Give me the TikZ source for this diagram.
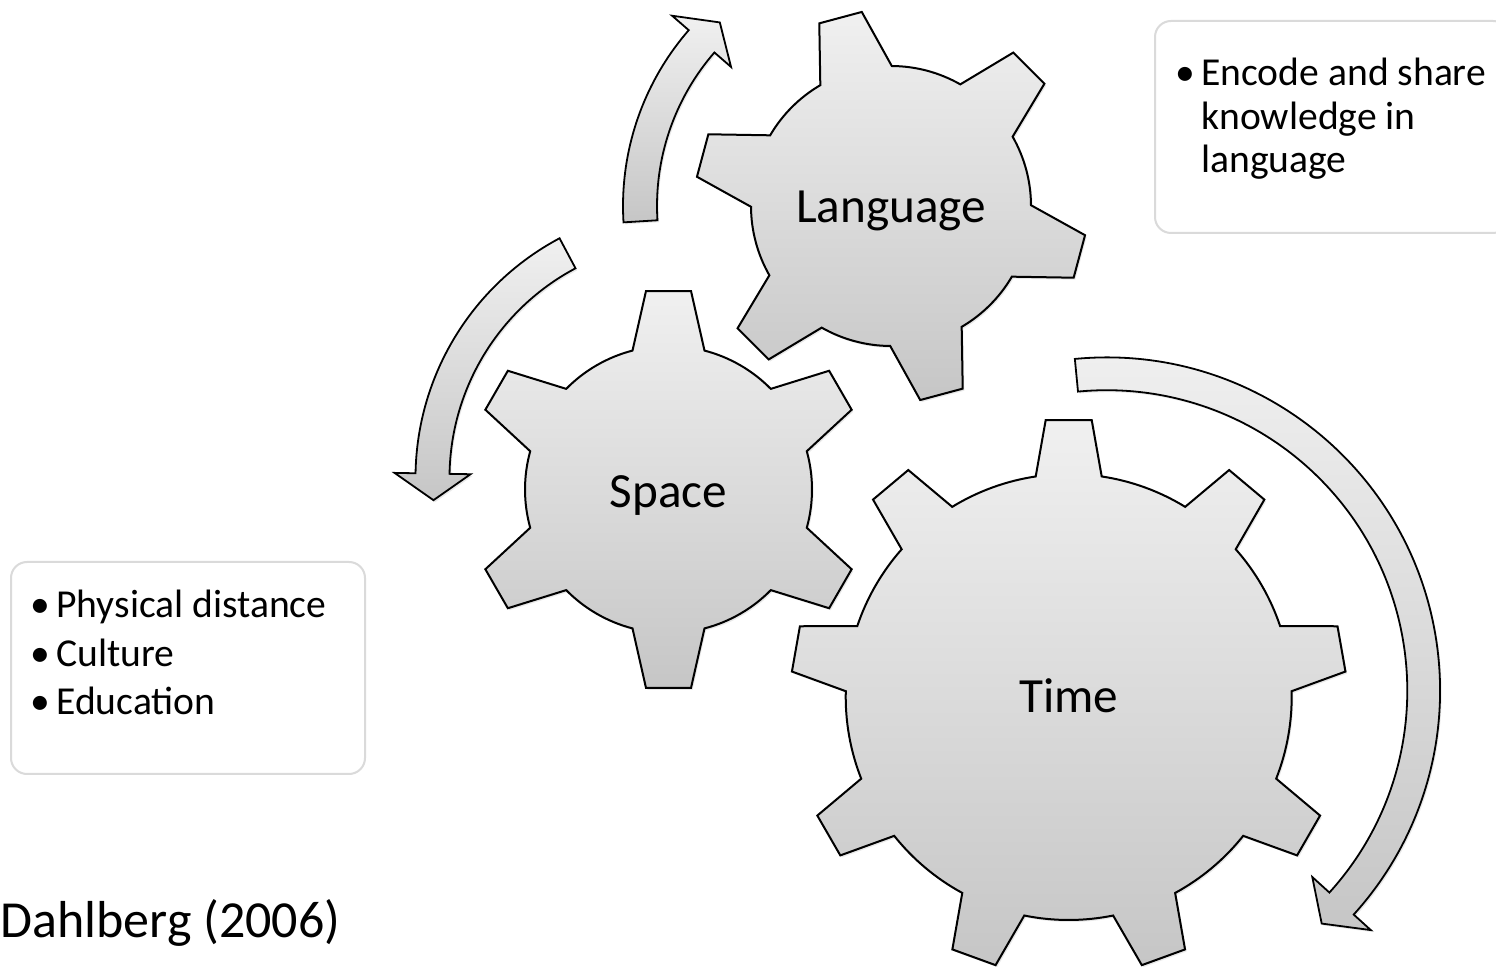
\documentclass[tikz,border=0pt]{standalone}
\usepackage{fontspec}
\setmainfont{Carlito}
\usetikzlibrary{shadows}
\definecolor{gtop}{RGB}{240,240,240}
\definecolor{gbot}{RGB}{198,198,198}
\definecolor{boxgray}{RGB}{218,218,218}
\newcommand{\mkgear}[8]{% #1 center, #2 teeth, #3 phase, #4 body radius, #5 tip distance, #6 base half width, #7 tip half width, #8 style
  \pgfmathsetmacro\gStep{360/#2}%
  \pgfmathsetmacro\gDb{asin(#6/#4)}%
  \pgfmathsetmacro\gDt{atan(#7/#5)}%
  \pgfmathsetmacro\gRt{100*sqrt((#5/100)*(#5/100)+(#7/100)*(#7/100))}%
  \pgfmathtruncatemacro\gLast{#2-1}%
  \begin{scope}[shift={#1}]
    \path[#8] ({#3-\gStep+\gDb}:#4)
      \foreach \k in {0,...,\gLast} {
        arc[start angle={#3+(\k-1)*\gStep+\gDb}, end angle={#3+\k*\gStep-\gDb}, radius=#4]
        -- ({#3+\k*\gStep-\gDt}:\gRt) -- ({#3+\k*\gStep+\gDt}:\gRt)
        -- ({#3+\k*\gStep+\gDb}:#4)
      } -- cycle;
  \end{scope}}
\newcommand{\mkringarrow}[8]{% #1 center, #2 x radius (mid), #3 y radius (mid), #4 half width, #5 tail angle, #6 head base angle, #7 tip angle, #8 barb extent
  \pgfmathsetmacro\aRxo{#2+#4}\pgfmathsetmacro\aRyo{#3+#4}%
  \pgfmathsetmacro\aRxi{#2-#4}\pgfmathsetmacro\aRyi{#3-#4}%
  \pgfmathsetmacro\aBxo{#2+#8}\pgfmathsetmacro\aByo{#3+#8}%
  \pgfmathsetmacro\aBxi{#2-#8}\pgfmathsetmacro\aByi{#3-#8}%
  \begin{scope}[shift={#1}]
    \path[ringarr] ({\aRxo*cos(#5)},{\aRyo*sin(#5)})
      arc[start angle=#5, end angle=#6, x radius=\aRxo, y radius=\aRyo]
      -- ({\aBxo*cos(#6)},{\aByo*sin(#6)})
      -- ({#2*cos(#7)},{#3*sin(#7)})
      -- ({\aBxi*cos(#6)},{\aByi*sin(#6)})
      -- ({\aRxi*cos(#6)},{\aRyi*sin(#6)})
      arc[start angle=#6, end angle=#5, x radius=\aRxi, y radius=\aRyi]
      -- cycle;
  \end{scope}}
\begin{document}
\begin{tikzpicture}[x=0.5pt,y=-0.5pt,
  gearshape/.style={draw=black, line width=1pt, top color=gtop, bottom color=gbot,
    drop shadow={shadow xshift=0.8pt, shadow yshift=-1pt, opacity=0.18}},
  ringarr/.style={draw=black, line width=0.9pt, top color=gtop, bottom color=gbot,
    drop shadow={shadow xshift=0.8pt, shadow yshift=-1pt, opacity=0.18}},
  glabel/.style={inner sep=0pt, anchor=base, font=\fontsize{24.6}{29}\selectfont},
  btext/.style={inner sep=0pt, anchor=base west, font=\fontsize{19.8}{24}\selectfont},
  infobox/.style={draw=boxgray, line width=1pt, rounded corners=8pt, fill=white,
    minimum width=177pt, minimum height=106pt, anchor=north west, inner sep=0pt}]
\useasboundingbox (0,0) rectangle (1496,967);
\fill[white] (0,0) rectangle (1496,967);

% gears
\mkgear{(891,206)}{6}{-105}{140}{195}{37}{22}{gearshape}
\mkgear{(668.5,489.5)}{6}{-90}{143.5}{198.5}{36}{22.5}{gearshape}
\mkgear{(1068.7,697)}{9}{-90}{223}{277}{33}{23}{gearshape}

% curved arrows
\mkringarrow{(891,206)}{251}{251}{17}{-183.5}{-139}{-133}{39}
\mkringarrow{(687,478)}{254.5}{254.5}{17}{-118}{-179}{-185}{38}
\mkringarrow{(1106.8,690.7)}{316.9}{316.9}{16.4}{-95.5}{42.2}{47.3}{39.5}

% gear labels
\node[glabel] (language) at (891,223) {Language};
\node[glabel] (space) at (668.5,508) {Space};
\node[glabel] (time) at (1068.7,713) {Time};

% info boxes
\node[infobox] (leftbox) at (10,561) {};
\node[infobox] (rightbox) at (1154,20) {};

\node[btext] (lb1) at (30,618) {\textbullet};
\node[btext] (lt1) at (56,618) {Physical distance};
\node[btext] (lb2) at (30,666.5) {\textbullet};
\node[btext] (lt2) at (56,666.5) {Culture};
\node[btext] (lb3) at (30,715) {\textbullet};
\node[btext] (lt3) at (56,715) {Education};

\node[btext] (rb1) at (1175,86) {\textbullet};
\node[btext] (rt1) at (1201,86) {Encode and share};
\node[btext] (rt2) at (1201,129.5) {knowledge in};
\node[btext] (rt3) at (1201,173) {language};

\node[inner sep=0pt, anchor=base west, font=\fontsize{26}{31}\selectfont] (cite) at (0,938) {Dahlberg (2006)};
\end{tikzpicture}
\end{document}
